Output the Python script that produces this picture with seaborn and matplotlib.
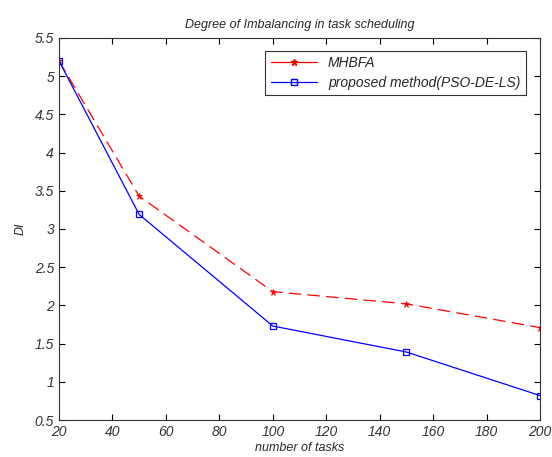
import matplotlib
matplotlib.use("Agg")
import matplotlib.pyplot as plt
import seaborn as sns
import pandas as pd
from matplotlib.lines import Line2D

tasks = [20, 50, 100, 150, 200]
mhbfa = [5.2, 3.43, 2.18, 2.02, 1.71]
proposed = [5.2, 3.19, 1.73, 1.39, 0.82]
series_names = ["MHBFA", "proposed method(PSO-DE-LS)"]
xticks = [20, 40, 60, 80, 100, 120, 140, 160, 180, 200]
yticks = [0.5, 1, 1.5, 2, 2.5, 3, 3.5, 4, 4.5, 5, 5.5]

sns.set_style("white")
plt.rcParams['font.family'] = ['Liberation Sans', 'DejaVu Sans']
plt.rcParams['font.style'] = 'italic'

df = pd.DataFrame({
    "tasks": tasks * 2,
    "DI": mhbfa + proposed,
    "method": [series_names[0]] * len(tasks) + [series_names[1]] * len(tasks),
})

fig = plt.figure(figsize=(5.52, 4.57), dpi=100)
ax = fig.add_axes([59/552, 1 - 420/457, (540-59)/552, (420-38)/457])

sns.lineplot(data=df, x="tasks", y="DI", hue="method", style="method",
             palette={series_names[0]: "#ff0000", series_names[1]: "#0000ff"},
             dashes={series_names[0]: (10, 5), series_names[1]: ""},
             markers={series_names[0]: "*", series_names[1]: "s"},
             markersize=5, linewidth=0.9, ax=ax, legend=False)
for ln in ax.lines:
    if ln.get_marker() == "s":
        ln.set_markerfacecolor("none")
        ln.set_markeredgecolor("#0000ff")
        ln.set_markeredgewidth(0.9)
        ln.set_markersize(4.5)
    elif ln.get_marker() == "*":
        ln.set_markerfacecolor("#ff0000")
        ln.set_markeredgecolor("#ff0000")
        ln.set_markeredgewidth(0.5)
        ln.set_markersize(5)

ax.set_xlim(20, 200)
ax.set_ylim(0.5, 5.5)
ax.set_xticks(xticks)
ax.set_yticks(yticks)
ax.set_xticklabels([str(t) for t in xticks])
ax.set_yticklabels([f"{t:g}" for t in yticks])
ax.tick_params(direction="in", length=4, labelsize=10, colors="black", labelcolor="#333333",
               top=True, right=True, bottom=True, left=True, width=0.8)
for sp in ax.spines.values():
    sp.set_color("#333333")
    sp.set_linewidth(0.8)
ax.set_xlabel("number of tasks", fontsize=9, labelpad=2)
ax.set_ylabel("DI", fontsize=9, labelpad=6)
ax.set_title("Degree of Imbalancing in task scheduling", fontsize=9, pad=7)

handles = [
    Line2D([], [], color="#ff0000", marker="*", markersize=5, linewidth=0.9),
    Line2D([], [], color="#0000ff", marker="s", markersize=4.5, markerfacecolor="none", linewidth=0.9),
]
leg = ax.legend(handles, series_names, loc="upper right", bbox_to_anchor=(0.985, 0.985),
                fontsize=10, frameon=True, fancybox=False, edgecolor="black",
                handlelength=3.3, borderpad=0.4, labelspacing=0.4)
leg.get_frame().set_linewidth(0.8)

fig.savefig("out.png", dpi=100, facecolor="white")
